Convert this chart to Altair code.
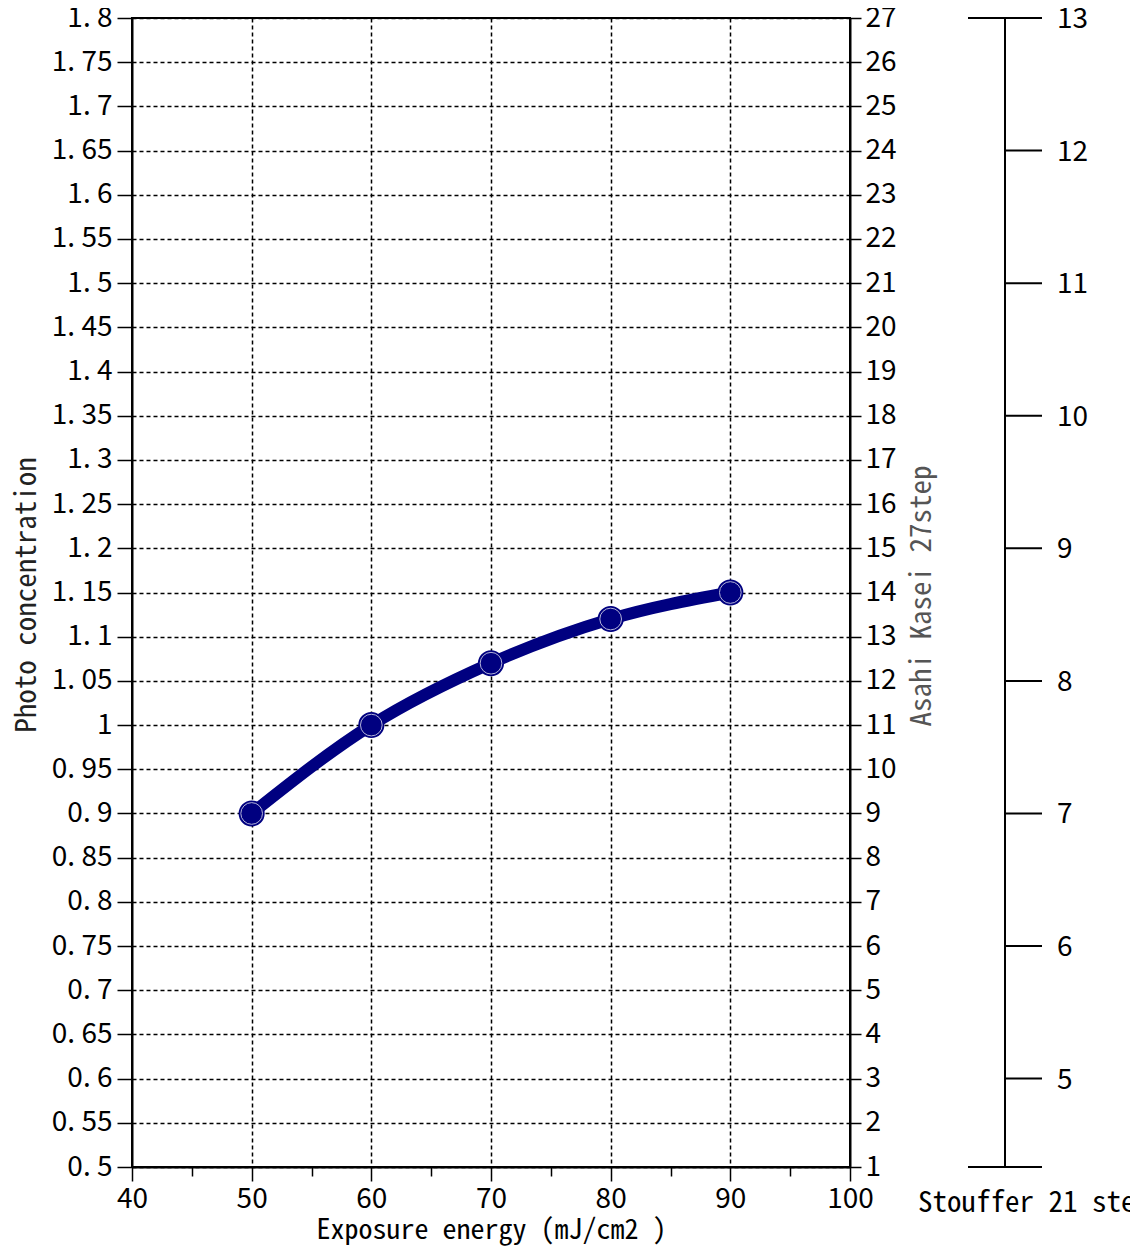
import altair as alt
import pandas as pd

# ---- data ----
energy = [50, 60, 70, 80, 90]
concentration = [0.90, 1.00, 1.07, 1.12, 1.15]

left_ticks = [0.5, 0.55, 0.6, 0.65, 0.7, 0.75, 0.8, 0.85, 0.9, 0.95, 1.0, 1.05, 1.1,
              1.15, 1.2, 1.25, 1.3, 1.35, 1.4, 1.45, 1.5, 1.55, 1.6, 1.65, 1.7, 1.75, 1.8]
asahi_ticks = [1, 2, 3, 4, 5, 6, 7, 8, 9, 10, 11, 12, 13, 14, 15, 16, 17, 18, 19, 20,
               21, 22, 23, 24, 25, 26, 27]
stouffer_ticks = [5, 6, 7, 8, 9, 10, 11, 12, 13]
stouffer_range = [4.3333, 13]
x_ticks = [40, 45, 50, 55, 60, 65, 70, 75, 80, 85, 90, 95, 100]

NAVY = "#000080"
LABEL_FONT = "Noto Sans CJK JP, Liberation Sans, sans-serif"
TITLE_FONT = "Noto Sans Mono CJK JP, Noto Sans CJK JP, monospace"
LABEL_SIZE = 28
TITLE_SIZE = 29
W, H = 718, 1149

main_df = pd.DataFrame({"energy": energy, "conc": concentration})
asahi_df = pd.DataFrame({"a": asahi_ticks})
st_df = pd.DataFrame({"s": stouffer_ticks})
st_range_df = pd.DataFrame({"lo": [stouffer_range[0]], "hi": [stouffer_range[1]]})
st_caps_df = pd.DataFrame({"s": stouffer_range})
label_df = pd.DataFrame({"t": ["Stouffer 21 step"]})

xscale = alt.Scale(domain=[40, 100], nice=False, zero=False)
yscale = alt.Scale(domain=[0.5, 1.8], nice=False, zero=False)
ascale = alt.Scale(domain=[1, 27], nice=False, zero=False)
sscale = alt.Scale(domain=stouffer_range, nice=False, zero=False)

xaxis = alt.Axis(
    values=x_ticks, labelFlush=False,
    labelExpr="datum.value % 10 === 0 ? datum.label : ''",
    tickSize={"condition": {"test": "datum.value % 10 !== 0", "value": 9}, "value": 14},
    gridOpacity={"condition": {"test": "datum.value % 10 !== 0 || datum.value === 40 || datum.value === 100", "value": 0}, "value": 1},
    grid=True, gridColor="black", gridDash=[4, 3], gridWidth=1.5,
    labelFont=LABEL_FONT, labelFontSize=LABEL_SIZE, labelColor="black", labelPadding=4,
    tickColor="black", tickWidth=1.5, domainColor="black", domainWidth=2,
    title="Exposure energy (mJ/cm2 )", titleFont=TITLE_FONT, titleFontSize=28,
    titleFontWeight="normal", titleColor="black", titleX=W / 2, titleY=63,
    titleAlign="center", titleBaseline="middle",
)
x_enc = alt.X("energy:Q", scale=xscale, axis=xaxis)

yaxis = alt.Axis(
    orient="left", values=left_ticks, labelFlush=False,
    labelExpr="replace(format(datum.value, '.2~f'), '.', '. ')",
    grid=True, gridColor="black", gridDash=[4, 3], gridWidth=1.5,
    labelFont=LABEL_FONT, labelFontSize=LABEL_SIZE, labelColor="black", labelPadding=5,
    tickSize=15, tickColor="black", tickWidth=1.5, domainColor="black", domainWidth=2,
    title="Photo concentration", titleFont=TITLE_FONT, titleFontSize=TITLE_SIZE,
    titleFontWeight="normal", titleColor="#222", titleAngle=270,
    titleX=-106, titleY=H / 2 + 2, titleAlign="center", titleBaseline="middle",
)

line = alt.Chart(main_df).mark_line(
    color=NAVY, strokeWidth=12, interpolate="monotone", strokeCap="round"
).encode(x=x_enc, y=alt.Y("conc:Q", scale=yscale, axis=yaxis))

pts = alt.Chart(main_df).mark_point(
    shape="circle", filled=True, color=NAVY, size=680, opacity=1
).encode(x=x_enc, y=alt.Y("conc:Q", scale=yscale, axis=None))

ring = alt.Chart(main_df).mark_point(
    shape="circle", filled=False, stroke="white", strokeWidth=1, size=470, opacity=0.7
).encode(x=x_enc, y=alt.Y("conc:Q", scale=yscale, axis=None))

asahi_axis = alt.Axis(
    orient="right", values=asahi_ticks, grid=False, labelFlush=False,
    labelFont=LABEL_FONT, labelFontSize=LABEL_SIZE, labelColor="black", labelPadding=4,
    tickSize=11, tickColor="black", tickWidth=1.5, domainColor="black", domainWidth=2,
    title="Asahi Kasei 27step", titleFont=TITLE_FONT, titleFontSize=TITLE_SIZE,
    titleFontWeight="normal", titleColor="#555", titleAngle=270,
    titleX=71, titleY=H / 2 + 3, titleAlign="center", titleBaseline="middle",
)
asahi = alt.Chart(asahi_df).mark_point(opacity=0).encode(
    x=alt.value(0), y=alt.Y("a:Q", scale=ascale, axis=asahi_axis)
)

# Stouffer 21-step scale drawn beside the chart
st_line = alt.Chart(st_range_df).mark_rule(color="black", strokeWidth=2).encode(
    x=alt.value(873), y=alt.Y("lo:Q", scale=sscale, axis=None), y2="hi:Q"
)
st_caps = alt.Chart(st_caps_df).mark_rule(color="black", strokeWidth=2).encode(
    x=alt.value(836), x2=alt.value(910), y=alt.Y("s:Q", scale=sscale, axis=None)
)
st_ticks = alt.Chart(st_df).mark_rule(color="black", strokeWidth=2).encode(
    x=alt.value(873), x2=alt.value(910), y=alt.Y("s:Q", scale=sscale, axis=None)
)
st_labels = alt.Chart(st_df).mark_text(
    align="left", baseline="middle", font=LABEL_FONT, fontSize=LABEL_SIZE, color="black", dy=2
).encode(x=alt.value(925), y=alt.Y("s:Q", scale=sscale, axis=None), text="s:Q")
st_title = alt.Chart(label_df).mark_text(
    align="left", baseline="middle", font=TITLE_FONT, fontSize=TITLE_SIZE, color="black"
).encode(x=alt.value(786), y=alt.value(H + 36), text="t:N")

chart = alt.layer(
    line, pts, ring, asahi, st_line, st_caps, st_ticks, st_labels, st_title
).resolve_scale(y="independent").properties(
    width=W, height=H,
    autosize=alt.AutoSizeParams(type="none"),
    padding={"left": 124, "top": 10, "right": 280, "bottom": 80},
    background="white",
).configure_view(stroke="black", strokeWidth=2)

chart.save("out.html", embed_options={"renderer": "svg", "actions": False})
